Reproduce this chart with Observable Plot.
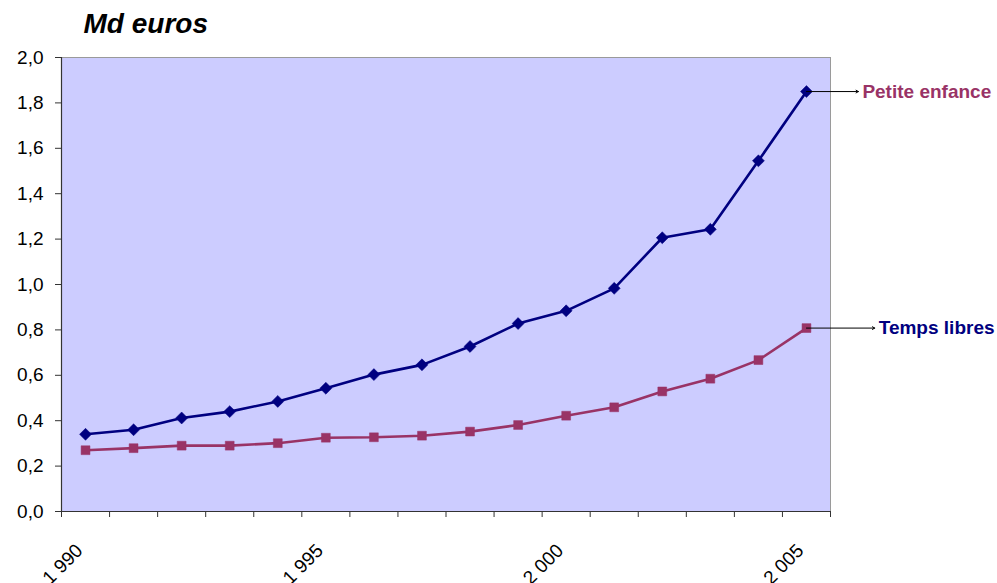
<!DOCTYPE html>
<html><head><meta charset="utf-8">
<script src="https://cdn.jsdelivr.net/npm/d3@7"></script>
<script src="https://cdn.jsdelivr.net/npm/@observablehq/plot@0.6"></script>
<style>body{margin:0;background:#fff}</style>
</head><body><div id="chart"></div>
<script>
const years = [1990,1991,1992,1993,1994,1995,1996,1997,1998,1999,2000,2001,2002,2003,2004,2005];
const petiteEnfance = [0.34,0.36,0.412,0.44,0.485,0.543,0.603,0.646,0.727,0.828,0.884,0.983,1.206,1.243,1.545,1.85];
const tempsLibres = [0.27,0.279,0.29,0.29,0.301,0.325,0.327,0.334,0.352,0.381,0.422,0.459,0.529,0.585,0.667,0.808];
const yTicks = [0,0.2,0.4,0.6,0.8,1.0,1.2,1.4,1.6,1.8,2.0];
const xLabelYears = [1990,1995,2000,2005];
const seriesNames = ["Petite enfance","Temps libres"];
const unitTitle = "Md euros";

const NAVY = "#000080", MAGENTA = "#993366";
const FONT = "'Liberation Sans', Arial, sans-serif";
const fr = d3.formatLocale({decimal: ",", thousands: " ", grouping: [3]});
const fmtY = fr.format(".1f");
const fmtYear = fr.format(",");

const pe = years.map((y, i) => ({year: y, value: petiteEnfance[i]}));
const tl = years.map((y, i) => ({year: y, value: tempsLibres[i]}));
const boundaries = years.map(y => y - 0.5).concat([years[years.length - 1] + 0.5]);

// labels at the end of each line (label colours as in the original)
const ends = [
  {text: seriesNames[0], year: years[years.length-1], value: petiteEnfance[petiteEnfance.length-1], color: MAGENTA, reach: 1.08},
  {text: seriesNames[1], year: years[years.length-1], value: tempsLibres[tempsLibres.length-1], color: NAVY, reach: 1.42}
];

const chart = Plot.plot({
  width: 997, height: 583,
  marginLeft: 61, marginRight: 167, marginTop: 57, marginBottom: 72,
  style: {fontFamily: FONT, fontSize: "19px", color: "#000", background: "#fff", overflow: "visible"},
  x: {type: "linear", domain: [years[0] - 0.5, years[years.length-1] + 0.5]},
  y: {domain: [0, 2.0]},
  marks: [
    Plot.frame({fill: "#CCCCFF", stroke: "#9a9a9a"}),
    Plot.axisY({ticks: yTicks, tickFormat: fmtY, tickSize: 6, tickPadding: 12, label: null, fontSize: 19, stroke: "#333"}),
    Plot.axisX({ticks: boundaries, tickFormat: () => "", tickSize: 6, label: null, stroke: "#333"}),
    Plot.ruleX([years[0] - 0.5], {stroke: "#333", strokeWidth: 1.2}),
    Plot.ruleY([0], {stroke: "#333", strokeWidth: 1.2}),
    Plot.text(xLabelYears, {x: d => d, y: 0, text: d => fmtYear(d), rotate: -45, textAnchor: "end", lineAnchor: "middle", dx: -6, dy: 36, fontSize: 19, fill: "#000"}),
    Plot.line(pe, {x: "year", y: "value", stroke: NAVY, strokeWidth: 2.6}),
    Plot.dot(pe, {x: "year", y: "value", symbol: "diamond2", r: 5.4, fill: NAVY, stroke: NAVY, strokeWidth: 0.5}),
    Plot.line(tl, {x: "year", y: "value", stroke: MAGENTA, strokeWidth: 2.6}),
    Plot.dot(tl, {x: "year", y: "value", symbol: "square", r: 5.0, fill: MAGENTA, stroke: MAGENTA, strokeWidth: 0.5}),
    Plot.arrow(ends, {x1: "year", y1: "value", x2: d => d.year + d.reach, y2: "value", stroke: "#000", strokeWidth: 1, headLength: 4, clip: false}),
    Plot.text(ends, {x: d => d.year + d.reach, y: "value", text: "text", fill: "color", textAnchor: "start", dx: 4, fontWeight: "bold", fontSize: 19, clip: false}),
    Plot.text([unitTitle], {frameAnchor: "top-left", text: d => d, dx: 22, dy: -25, lineAnchor: "bottom", textAnchor: "start", fontSize: 28, fontWeight: "bold", fontStyle: "italic", fill: "#000", style: {letterSpacing: "0.6px"}})
  ]
});
document.getElementById("chart").appendChild(chart);
</script>
</body></html>
